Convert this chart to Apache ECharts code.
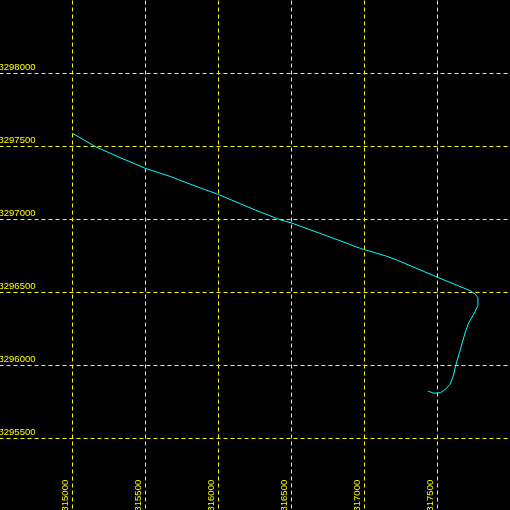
<!DOCTYPE html>
<html>
<head>
<meta charset="utf-8">
<script src="https://cdn.jsdelivr.net/npm/echarts@6/dist/echarts.min.js"></script>
<style>
    html, body { margin: 0; padding: 0; background: #000; }
    #track { width: 510px; height: 510px; }
</style>
</head>
<body>
<div id="track"></div>
<script>
// 轨迹坐标 (东坐标 / 北坐标)
var eastings = [314995, 315051, 315154, 315326, 315499, 315669, 315806, 316000, 316252, 316423,
    316501, 316821, 316972, 317144, 317235, 317503, 317645, 317715, 317749, 317777,
    317777, 317749, 317715, 317693, 317670, 317647, 317624, 317608, 317585, 317555,
    317521, 317475, 317434];
var northings = [3297593, 3297561, 3297500, 3297424, 3297350, 3297295, 3297242, 3297171, 3297065, 3296998,
    3296976, 3296859, 3296802, 3296751, 3296717, 3296603, 3296545, 3296516, 3296496, 3296467,
    3296413, 3296352, 3296294, 3296237, 3296157, 3296077, 3295997, 3295928, 3295871, 3295837,
    3295814, 3295810, 3295825];
// 刻度标签
var xTicks = [315000, 315500, 316000, 316500, 317000, 317500];
var yTicks = [3295500, 3296000, 3296500, 3297000, 3297500, 3298000];

var points = eastings.map(function (e, i) { return [e, northings[i]]; });

var gridLine = {
    show: true,
    showMinLine: false,
    showMaxLine: false,
    lineStyle: { color: '#ffff00', width: 1, type: [4, 3] }
};
var labelFont = {
    color: '#ffff00',
    fontFamily: '"Liberation Sans", sans-serif',
    fontSize: 9.5
};

var myChart = echarts.init(document.getElementById('track'));
myChart.setOption({
    backgroundColor: '#000',
    animation: false,
    // 每500米73像素
    grid: { left: -0.5, right: -0.5, top: 0.5, bottom: -1.5, outerBoundsMode: 'none', containLabel: false },
    xAxis: {
        type: 'value',
        min: 314500,
        max: 318000,
        interval: 500,
        axisLine: { show: false },
        axisTick: { show: false },
        splitLine: gridLine,
        axisLabel: Object.assign({
            inside: true,
            rotate: 90,
            align: 'left',
            verticalAlign: 'bottom',
            margin: 0,
            padding: [0, 0, 2, 0],
            formatter: function (v) { return xTicks.indexOf(v) >= 0 ? String(v) : ''; }
        }, labelFont)
    },
    yAxis: {
        type: 'value',
        min: 3295000,
        max: 3298500,
        interval: 500,
        axisLine: { show: false },
        axisTick: { show: false },
        splitLine: gridLine,
        axisLabel: Object.assign({
            inside: true,
            align: 'left',
            verticalAlign: 'bottom',
            margin: -1,
            padding: [0, 0, 1, 0],
            formatter: function (v) { return yTicks.indexOf(v) >= 0 ? String(v) : ''; }
        }, labelFont)
    },
    series: [{
        type: 'line',
        data: points,
        symbol: 'none',
        lineStyle: { color: '#00ffff', width: 1 }
    }]
});
</script>
</body>
</html>
